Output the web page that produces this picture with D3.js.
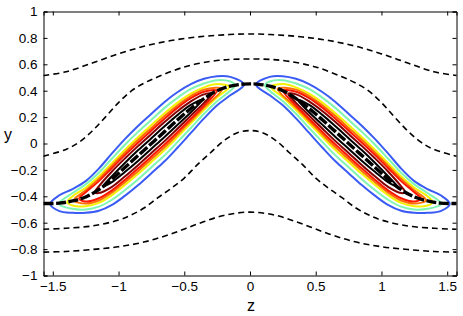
<!DOCTYPE html>
<html>
<head>
<meta charset="utf-8">
<script src="https://cdnjs.cloudflare.com/ajax/libs/d3/7.8.5/d3.min.js"></script>
<style>
  body { margin: 0; background: #fff; }
  text { font-family: "Liberation Sans", Arial, sans-serif; fill: #000; }
  .tick text { font-size: 13.5px; }
  .tick line, .domain { stroke: #000; }
</style>
</head>
<body>
<svg id="chart" width="463" height="316"></svg>
<script>
const zTicks = [-1.5, -1, -0.5, 0, 0.5, 1, 1.5];
const yTicks = [-1, -0.8, -0.6, -0.4, -0.2, 0, 0.2, 0.4, 0.6, 0.8, 1];

// dashed level curves, [z, y]
const dashTop = [[-1.5708,0.515],[-1.4,0.543],[-1.2,0.61],[-1.0,0.679],[-0.8,0.738],[-0.6,0.78],[-0.4,0.807],[-0.2,0.823],[0,0.83],
  [0.2,0.823],[0.4,0.807],[0.6,0.78],[0.8,0.738],[1.0,0.679],[1.2,0.61],[1.4,0.543],[1.5708,0.515]];
const dashUpper = [[-1.5708,-0.096],[-1.4,-0.045],[-1.3,0.01],[-1.2,0.095],[-1.1,0.2],[-1.0,0.31],[-0.9,0.4],[-0.8,0.46],[-0.7,0.505],[-0.5,0.58],[-0.3,0.622],[-0.15,0.637],[0,0.64],
  [0.15,0.637],[0.3,0.622],[0.5,0.58],[0.7,0.505],[0.8,0.46],[0.9,0.4],[1.0,0.31],[1.1,0.2],[1.2,0.095],[1.3,0.01],[1.4,-0.045],[1.5708,-0.096]];
const dashLower = [[-1.5708,-0.65],[-1.4,-0.642],[-1.2,-0.625],[-1.0,-0.58],[-0.9,-0.54],[-0.8,-0.485],[-0.7,-0.41],[-0.6,-0.34],[-0.5,-0.262],[-0.4,-0.16],[-0.3,-0.07],[-0.2,0.02],[-0.1,0.08],[0,0.098],
  [0.1,0.08],[0.2,0.02],[0.3,-0.07],[0.4,-0.16],[0.5,-0.262],[0.6,-0.34],[0.7,-0.41],[0.8,-0.485],[0.9,-0.54],[1.0,-0.58],[1.2,-0.625],[1.4,-0.642],[1.5708,-0.65]];
const dashBottom = [[-1.5708,-0.823],[-1.4,-0.818],[-1.2,-0.803],[-1.0,-0.782],[-0.8,-0.745],[-0.6,-0.685],[-0.4,-0.61],[-0.2,-0.545],[0,-0.52],
  [0.2,-0.545],[0.4,-0.61],[0.6,-0.685],[0.8,-0.745],[1.0,-0.782],[1.2,-0.803],[1.4,-0.818],[1.5708,-0.823]];

// thick black ridge curve
const ridge = [[-1.5708,-0.455],[-1.45,-0.452],[-1.35,-0.435],[-1.25,-0.405],[-1.15,-0.35],[-1.05,-0.27],[-0.95,-0.18],[-0.85,-0.09],[-0.75,0],[-0.65,0.09],[-0.55,0.18],[-0.45,0.265],[-0.35,0.34],[-0.25,0.4],[-0.15,0.435],[-0.05,0.45],[0,0.452],
  [0.05,0.45],[0.15,0.435],[0.25,0.4],[0.35,0.34],[0.45,0.265],[0.55,0.18],[0.65,0.09],[0.75,0],[0.85,-0.09],[0.95,-0.18],[1.05,-0.27],[1.15,-0.35],[1.25,-0.405],[1.35,-0.435],[1.45,-0.452],[1.5708,-0.455]];

// contour lobes: spine stations (|z|, measured on the left lobe) and half-widths per level
const stationZ = [1.45, 1.35, 1.25, 1.15, 1.05, 0.95, 0.85, 0.75, 0.65, 0.55, 0.45, 0.35, 0.25, 0.15];
const stationY = [-0.452, -0.435, -0.405, -0.35, -0.27, -0.18, -0.09, 0, 0.09, 0.18, 0.265, 0.34, 0.4, 0.435];
const levelColors = ["#3a5cf4", "#7ff5b2", "#f2f200", "#ff7000", "#ff1800", "#850000", "#000000"];
const levelTips = [ // [outer |z|, outer y, inner |z|, inner y]
  [1.52, -0.457, 0.045, 0.447],
  [1.455, -0.457, 0.114, 0.44],
  [1.39, -0.444, 0.157, 0.43],
  [1.34, -0.43, 0.21, 0.415],
  [1.30, -0.418, 0.253, 0.398],
  [1.18, -0.37, 0.29, 0.376],
  [1.12, -0.325, 0.36, 0.332]
];
const levelWidths = [
  [0.06, 0.09, 0.12, 0.16, 0.195, 0.215, 0.225, 0.225, 0.225, 0.21, 0.185, 0.15, 0.11, 0.07],
  [null, 0.06, 0.095, 0.128, 0.156, 0.172, 0.18, 0.18, 0.18, 0.168, 0.148, 0.115, 0.08, 0.035],
  [null, 0.035, 0.07, 0.1, 0.121, 0.133, 0.14, 0.14, 0.14, 0.13, 0.112, 0.085, 0.05, null],
  [null, null, 0.05, 0.082, 0.102, 0.112, 0.118, 0.118, 0.118, 0.11, 0.094, 0.068, null, null],
  [null, null, 0.035, 0.065, 0.085, 0.094, 0.098, 0.098, 0.098, 0.092, 0.078, 0.052, null, null],
  [null, null, null, 0.025, 0.058, 0.068, 0.072, 0.072, 0.072, 0.066, 0.054, 0.032, null, null],
  [null, null, null, null, 0.022, 0.034, 0.04, 0.04, 0.04, 0.037, 0.028, null, null, null]
];

const svg = d3.select("#chart");
const x = d3.scaleLinear().domain([-Math.PI / 2, Math.PI / 2]).range([43.5, 456.5]);
const y = d3.scaleLinear().domain([-1, 1]).range([275.5, 11.5]);

const line = d3.line().x(d => x(d[0])).y(d => y(d[1])).curve(d3.curveCatmullRom.alpha(0.5));
const loop = d3.line().x(d => x(d[0])).y(d => y(d[1])).curve(d3.curveCatmullRomClosed.alpha(0.5));

const plot = svg.append("g");

[dashTop, dashUpper, dashLower, dashBottom].forEach(c => {
  plot.append("path").attr("d", line(c))
    .attr("fill", "none").attr("stroke", "#000")
    .attr("stroke-width", 1.6).attr("stroke-dasharray", "6,4");
});

// contour lobes, left (sign -1) and right (sign +1)
[-1, 1].forEach(sign => {
  levelWidths.forEach((w, k) => {
    const t = levelTips[k];
    const idx = stationZ.map((_, i) => i).filter(i => w[i] != null);
    const pts = [[sign * t[0], t[1]]]
      .concat(idx.map(i => [sign * stationZ[i], stationY[i] + w[i]]))
      .concat([[sign * t[2], t[3]]])
      .concat(idx.slice().reverse().map(i => [sign * stationZ[i], stationY[i] - w[i]]));
    plot.append("path").attr("d", loop(pts))
      .attr("fill", "none").attr("stroke", levelColors[k]).attr("stroke-width", 2);
  });
});

plot.append("path").attr("d", line(ridge))
  .attr("fill", "none").attr("stroke", "#000")
  .attr("stroke-width", 3.4).attr("stroke-dasharray", "10,2.5");

// axes, MATLAB style: inward ticks on all four sides
const fmt = d3.format("");
svg.append("g").attr("transform", "translate(0,275.5)")
  .call(d3.axisBottom(x).tickValues(zTicks).tickSize(-4).tickPadding(6).tickFormat(fmt));
svg.append("g").attr("transform", "translate(0,11.5)")
  .call(d3.axisTop(x).tickValues(zTicks).tickSize(-4).tickFormat(""));
svg.append("g").attr("transform", "translate(43.5,0)")
  .call(d3.axisLeft(y).tickValues(yTicks).tickSize(-4).tickPadding(6).tickFormat(fmt));
svg.append("g").attr("transform", "translate(456.5,0)")
  .call(d3.axisRight(y).tickValues(yTicks).tickSize(-4).tickFormat(""));
svg.selectAll(".domain").attr("stroke-width", 1);

svg.append("text").attr("x", 251).attr("y", 311).attr("text-anchor", "middle")
  .style("font-size", "16px").text("z");
svg.append("text").attr("x", 8).attr("y", 140).attr("text-anchor", "middle")
  .style("font-size", "16px").text("y");
</script>
</body>
</html>
